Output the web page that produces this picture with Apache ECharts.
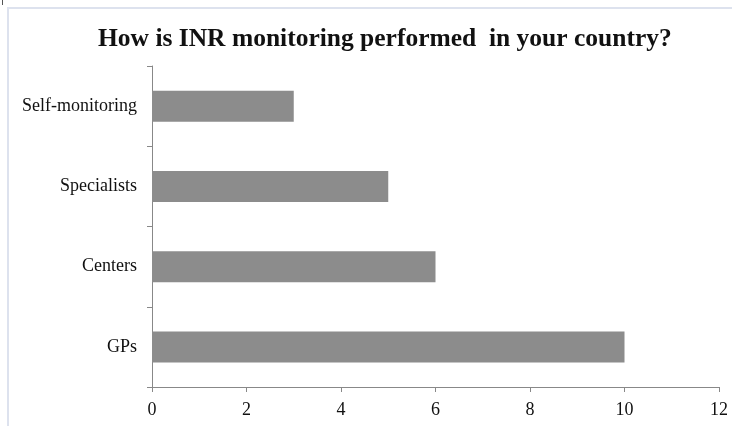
<!DOCTYPE html>
<html><head><meta charset="utf-8">
<script src="https://cdn.jsdelivr.net/npm/echarts@6/dist/echarts.min.js"></script>
<style>
html,body{margin:0;padding:0;background:#fff;}
#frame{position:absolute;left:7px;top:7px;width:725px;height:419px;border-left:2px solid #dde2ee;border-top:2px solid #dde2ee;}
#mark{position:absolute;left:2px;top:0;width:1px;height:5px;background:#555;}
#c{position:absolute;left:0;top:0;width:732px;height:426px;}
</style></head>
<body>
<div id="frame"></div><div id="mark"></div>
<div id="c"></div>
<script>
const categories = ['GPs', 'Centers', 'Specialists', 'Self-monitoring'];
const values = [10, 6, 5, 3];
const xTicks = [0, 2, 4, 6, 8, 10, 12];
const titleText = 'How is INR monitoring performed  in your country?';

const chart = echarts.init(document.getElementById('c'));
const serif = '"Liberation Serif", "DejaVu Serif", serif';
chart.setOption({
  animation: false,
  title: {
    text: titleText, left: 93, top: 21,
    textStyle: {fontFamily: serif, fontWeight: 'bold', fontSize: 25.5, color: '#111'}
  },
  grid: {left: 152, right: 13, top: 66, bottom: 39, containLabel: false},
  xAxis: {
    type: 'value', min: xTicks[0], max: xTicks[xTicks.length - 1], interval: 2,
    axisLine: {show: true, lineStyle: {color: '#888', width: 1}},
    axisTick: {show: true, length: 5, lineStyle: {color: '#888'}},
    splitLine: {show: false},
    axisLabel: {fontFamily: serif, fontSize: 18, color: '#111', margin: 14}
  },
  yAxis: {
    type: 'category', data: categories,
    axisLine: {show: true, lineStyle: {color: '#888', width: 1}},
    axisTick: {show: true, length: 5, lineStyle: {color: '#888'}},
    axisLabel: {fontFamily: serif, fontSize: 18, color: '#111', margin: 15}
  },
  series: [{
    type: 'bar', data: values, barWidth: 31,
    itemStyle: {color: '#8c8c8c'}
  }]
});
</script>
</body></html>
